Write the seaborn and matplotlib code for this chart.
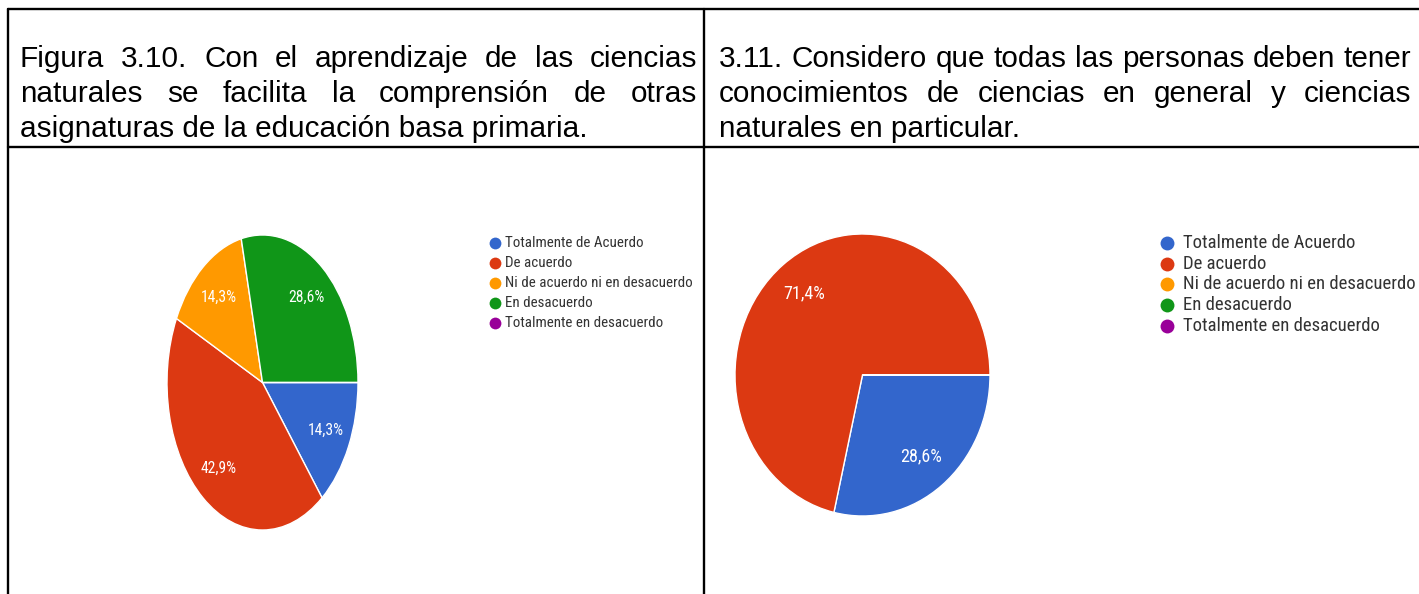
import matplotlib
matplotlib.use("Agg")
import matplotlib.pyplot as plt
from matplotlib import font_manager
from matplotlib.lines import Line2D
import seaborn as sns

# ---------------- data ----------------
categories = ["Totalmente de Acuerdo", "De acuerdo", "Ni de acuerdo ni en desacuerdo",
              "En desacuerdo", "Totalmente en desacuerdo"]
left_pct = [14.3, 42.9, 14.3, 28.6, 0.0]
right_pct = [28.6, 71.4, 0.0, 0.0, 0.0]
palette_hex = ["#3366CC", "#DC3912", "#FF9900", "#109618", "#990099"]

left_title = ["Figura 3.10. Con el aprendizaje de las ciencias",
              "naturales se facilita la comprensión de otras",
              "asignaturas de la educación basa primaria."]
right_title = ["3.11. Considero que todas las personas deben tener",
               "conocimientos de ciencias en general y ciencias",
               "naturales en particular."]

# ---------------- style ----------------
sns.set_theme(style="white")
colors = sns.color_palette(palette_hex)


def pick(fams):
    for f in fams:
        try:
            font_manager.findfont(font_manager.FontProperties(family=f), fallback_to_default=False)
            return f
        except Exception:
            continue
    return "DejaVu Sans"


NARROW = pick(["Liberation Sans Narrow", "Arial Narrow", "Roboto Condensed", "Archivo Narrow",
               "PT Sans Narrow", "Liberation Sans"])
REGULAR = pick(["Liberation Sans", "Arimo", "Arial"])
plt.rcParams["font.family"] = [NARROW, "DejaVu Sans"]
HEAD_FAM = [REGULAR, "DejaVu Sans"]

W, H = 1419, 594
fig = plt.figure(figsize=(W / 100, H / 100), dpi=100)
fig.patch.set_facecolor("white")
renderer = fig.canvas.get_renderer()


def fx(x):
    return x / W


def fy(y):
    return 1 - y / H


def fit(text, target_px, family=None, base=20.0):
    kw = {"family": family} if family else {}
    t = fig.text(0, 0, text, fontsize=base, **kw)
    w = t.get_window_extent(renderer).width
    t.remove()
    return base * target_px / w


# ---------------- table borders ----------------
lw = 1.7
RULE_Y = 147
fig.add_artist(Line2D([fx(8), fx(1419)], [fy(9), fy(9)], color="black", lw=lw))
fig.add_artist(Line2D([fx(8), fx(1419)], [fy(RULE_Y), fy(RULE_Y)], color="black", lw=lw))
fig.add_artist(Line2D([fx(8), fx(8)], [fy(9), fy(594)], color="black", lw=lw))
fig.add_artist(Line2D([fx(704), fx(704)], [fy(9), fy(594)], color="black", lw=lw))

# ---------------- header text (justified) ----------------
TITLE_FS = fit(right_title[2], 300, HEAD_FAM)


def place_lines(lines, x0, x1, baselines):
    for i, (line, y) in enumerate(zip(lines, baselines)):
        if i == len(lines) - 1:
            fig.text(fx(x0), fy(y), line, fontsize=TITLE_FS, family=HEAD_FAM,
                     va="baseline", ha="left", color="black")
            continue
        words = line.split(" ")
        texts = [fig.text(fx(x0), fy(y), w, fontsize=TITLE_FS, family=HEAD_FAM,
                          va="baseline", ha="left", color="black") for w in words]
        widths = [t.get_window_extent(renderer).width for t in texts]
        gap = (x1 - x0 - sum(widths)) / (len(words) - 1)
        x = x0
        for t, wd in zip(texts, widths):
            t.set_x(fx(x))
            x += wd + gap


place_lines(left_title, 20, 697, [67, 102, 137])
place_lines(right_title, 719, 1411, [67, 102, 137])


# ---------------- pies ----------------
def fmt(p):
    return ("%.1f%%" % p).replace(".", ",") if p > 0.05 else ""


def draw_pie(vals, box, label_fs):
    x0, y0, x1, y1 = box
    ax = fig.add_axes([fx(x0), fy(y1), fx(x1 - x0), (y1 - y0) / H])
    ax.pie(vals, colors=colors, startangle=0, counterclock=False,
           autopct=fmt, pctdistance=0.74,
           wedgeprops=dict(edgecolor="white", linewidth=1.0),
           textprops=dict(color="white", fontsize=label_fs))
    ax.set_aspect("auto")
    ax.set_xlim(-1.0, 1.0)
    ax.set_ylim(-1.0, 1.0)
    ax.axis("off")
    return ax


draw_pie(left_pct, (167, 235, 358, 530), fit("14,3%", 36))
draw_pie(right_pct, (735, 234, 990, 516), fit("28,6%", 42))


# ---------------- legends ----------------
def draw_legend(xm, xt, y0, pitch, ms, fs):
    for i, (lab, c) in enumerate(zip(categories, colors)):
        y = y0 + i * pitch
        fig.add_artist(Line2D([fx(xm)], [fy(y)], marker="o", linestyle="", markersize=ms,
                              color=c, markeredgewidth=0))
        fig.text(fx(xt), fy(y), lab, fontsize=fs, va="center", ha="left", color="#333333")


draw_legend(495, 505, 243, 20.0, 8.5, fit(categories[2], 186))
draw_legend(1167, 1183, 243, 20.7, 10.0, fit(categories[2], 233))

fig.savefig("out.png", dpi=100, facecolor="white")
